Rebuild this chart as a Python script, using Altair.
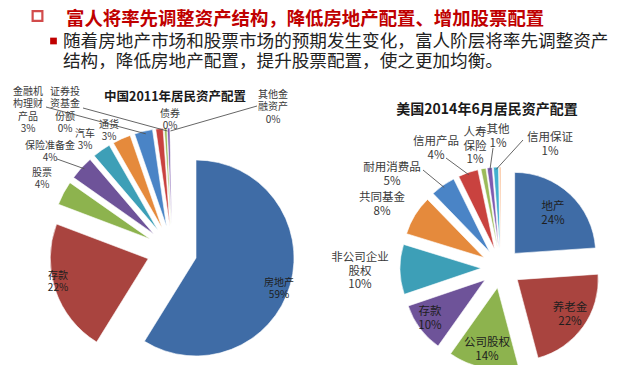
import math
import altair as alt
import pandas as pd

# ---------------- data ----------------
header_title = "富人将率先调整资产结构，降低房地产配置、增加股票配置"
body_line1 = "随着房地产市场和股票市场的预期发生变化，富人阶层将率先调整资产"
body_line2 = "结构，降低房地产配置，提升股票配置，使之更加均衡。"

cn_title = "中国2011年居民资产配置"
cn_names = ["房地产", "存款", "股票", "保险准备金", "汽车", "通货",
            "金融机构理财产品", "债券", "证券投资基金份额", "其他金融资产"]
cn_values = [59, 22, 4, 4, 3, 3, 3, 1.2, 0.4, 0.4]
cn_texts = ["房地产\n59%", "存款\n22%", "股票\n4%", "保险准备金\n4%", "汽车\n3%",
            "通货\n3%", "金融机\n构理财\n产品\n3%", "债券\n0%",
            "证券投\n资基金\n份额\n0%", "其他金\n融资产\n0%"]

us_title = "美国2014年6月居民资产配置"
us_names = ["地产", "养老金", "公司股权", "存款", "非公司企业股权", "共同基金",
            "耐用消费品", "信用产品", "人寿保险", "其他", "信用保证", "未标注"]
us_values = [24, 22, 14, 10, 10, 8, 5, 4, 1, 1, 1, 0.3]
us_texts = ["地产\n24%", "养老金\n22%", "公司股权\n14%", "存款\n10%",
            "非公司企业\n股权\n10%", "共同基金\n8%", "耐用消费品\n5%",
            "信用产品\n4%", "人寿\n保险\n1%", "其他\n1%", "信用保证\n1%", ""]

# ---------------- layout / styles ----------------
W, H = 624, 357
M = 8  # page margin
FONT = "Noto Sans CJK SC"

pal1 = ["#3F6CA6", "#A9443F", "#8DB34E", "#6E5399", "#3D9FB7", "#E58A3C"]
pal2 = ["#4A84C6", "#C9423F", "#9BBB59", "#7E5BB0", "#41B0CF", "#F7A063"]
palette = pal1 + pal2

CN = dict(cx=172, cy=251, r=98, d=25, fs=10, lh=12.3)
US = dict(cx=501, cy=268, r=81, d=20, fs=11.5, lh=13.5)

# label anchors (page coords: x centre, y of first line)
cn_lx = [279, 58, 42, 50, 85, 109, 28, 170, 65, 273]
cn_ly = [283, 276, 173, 146, 134, 125, 92, 114, 92, 95]
cn_lead = {3: (57, 159), 6: (46, 107), 8: (83, 108), 9: (257, 106)}

us_lx = [553, 570, 487, 430, 360, 382, 392, 436, 475, 498, 550, 0]
us_ly = [207, 308, 343, 312, 258, 198, 168, 142, 133, 130, 138, 0]
us_lead = {6: (423, 170), 7: (446, 158), 9: (493, 148), 10: (523, 140)}

inside_dark = {"房地产", "存款", "地产", "养老金", "公司股权"}


def pie_frames(names, values, texts, lx, ly, lead, g):
    total = sum(values)
    arcs, labels, leads = [], [], []
    cum = 0.0
    for i, (n, v) in enumerate(zip(names, values)):
        mid = (cum + v / 2) / total * 2 * math.pi
        arcs.append(dict(name=n, start=cum, end=cum + v, color=palette[i % 12],
                         px=g["cx"] - M + g["d"] * math.sin(mid),
                         py=g["cy"] - M - g["d"] * math.cos(mid)))
        t = texts[i]
        if t:
            labels.append(dict(text=t, x=lx[i] - M, y=ly[i] - M,
                               col="#1E1E1E" if n in inside_dark else "#3A3A3A"))
        if i in lead:
            rr = g["d"] + g["r"] * 0.97
            leads.append(dict(x=lead[i][0] - M, y=lead[i][1] - M,
                              x2=g["cx"] - M + rr * math.sin(mid),
                              y2=g["cy"] - M - rr * math.cos(mid)))
        cum += v
    return pd.DataFrame(arcs), pd.DataFrame(labels), pd.DataFrame(leads), total


def pie_layers(names, values, texts, lx, ly, lead, g):
    arcs, labels, leads, total = pie_frames(names, values, texts, lx, ly, lead, g)
    arc = alt.Chart(arcs).mark_arc(outerRadius=g["r"], stroke="white", strokeWidth=0.6).encode(
        x=alt.X("px:Q", scale=None, axis=None),
        y=alt.Y("py:Q", scale=None, axis=None),
        theta=alt.Theta("start:Q", stack=False,
                        scale=alt.Scale(domain=[0, total], range=[0, 2 * math.pi])),
        theta2="end:Q",
        color=alt.Color("color:N", scale=None, legend=None),
    )
    lead_l = alt.Chart(leads).mark_rule(color="#555555", strokeWidth=0.9).encode(
        x=alt.X("x:Q", scale=None, axis=None),
        y=alt.Y("y:Q", scale=None, axis=None),
        x2="x2:Q", y2="y2:Q",
    )
    lab = alt.Chart(labels).mark_text(font=FONT, fontSize=g["fs"], lineHeight=g["lh"],
                                      lineBreak="\n", align="center", baseline="middle").encode(
        x=alt.X("x:Q", scale=None, axis=None),
        y=alt.Y("y:Q", scale=None, axis=None),
        text="text:N",
        color=alt.Color("col:N", scale=None, legend=None),
    )
    return [arc, lead_l, lab]


def text_item(txt, x, y, size, color, weight="normal", align="center"):
    return alt.Chart(pd.DataFrame({"t": [txt]})).mark_text(
        font=FONT, fontSize=size, fontWeight=weight, color=color,
        align=align, baseline="middle").encode(
        x=alt.value(x - M), y=alt.value(y - M), text="t:N")


box = alt.Chart(pd.DataFrame({"k": [0]})).mark_point(
    shape="square", filled=False, color="#C00000", strokeWidth=2.2, size=95).encode(
    x=alt.value(37.5 - M), y=alt.value(16 - M))
bullet = alt.Chart(pd.DataFrame({"k": [0]})).mark_point(
    shape="square", filled=True, color="#C00000", opacity=1, size=45).encode(
    x=alt.value(53.5 - M), y=alt.value(41 - M))

layers = []
layers += pie_layers(cn_names, cn_values, cn_texts, cn_lx, cn_ly, cn_lead, CN)
layers += pie_layers(us_names, us_values, us_texts, us_lx, us_ly, us_lead, US)
layers += [
    box, bullet,
    text_item(header_title, 66, 19, 18.4, "#C00000", "bold", "left"),
    text_item(body_line1, 63, 42, 17.6, "#222222", "normal", "left"),
    text_item(body_line2, 63, 62, 17.6, "#222222", "normal", "left"),
    text_item(cn_title, 175, 97, 12.5, "#1A1A1A", "bold"),
    text_item(us_title, 487, 110, 14, "#1A1A1A", "bold"),
]

chart = alt.layer(*layers).properties(
    width=W, height=H, padding=0, autosize=alt.AutoSizeParams(type="none")
).configure_view(stroke=None)

chart.save("out.html", embed_options={"renderer": "svg", "actions": False})
